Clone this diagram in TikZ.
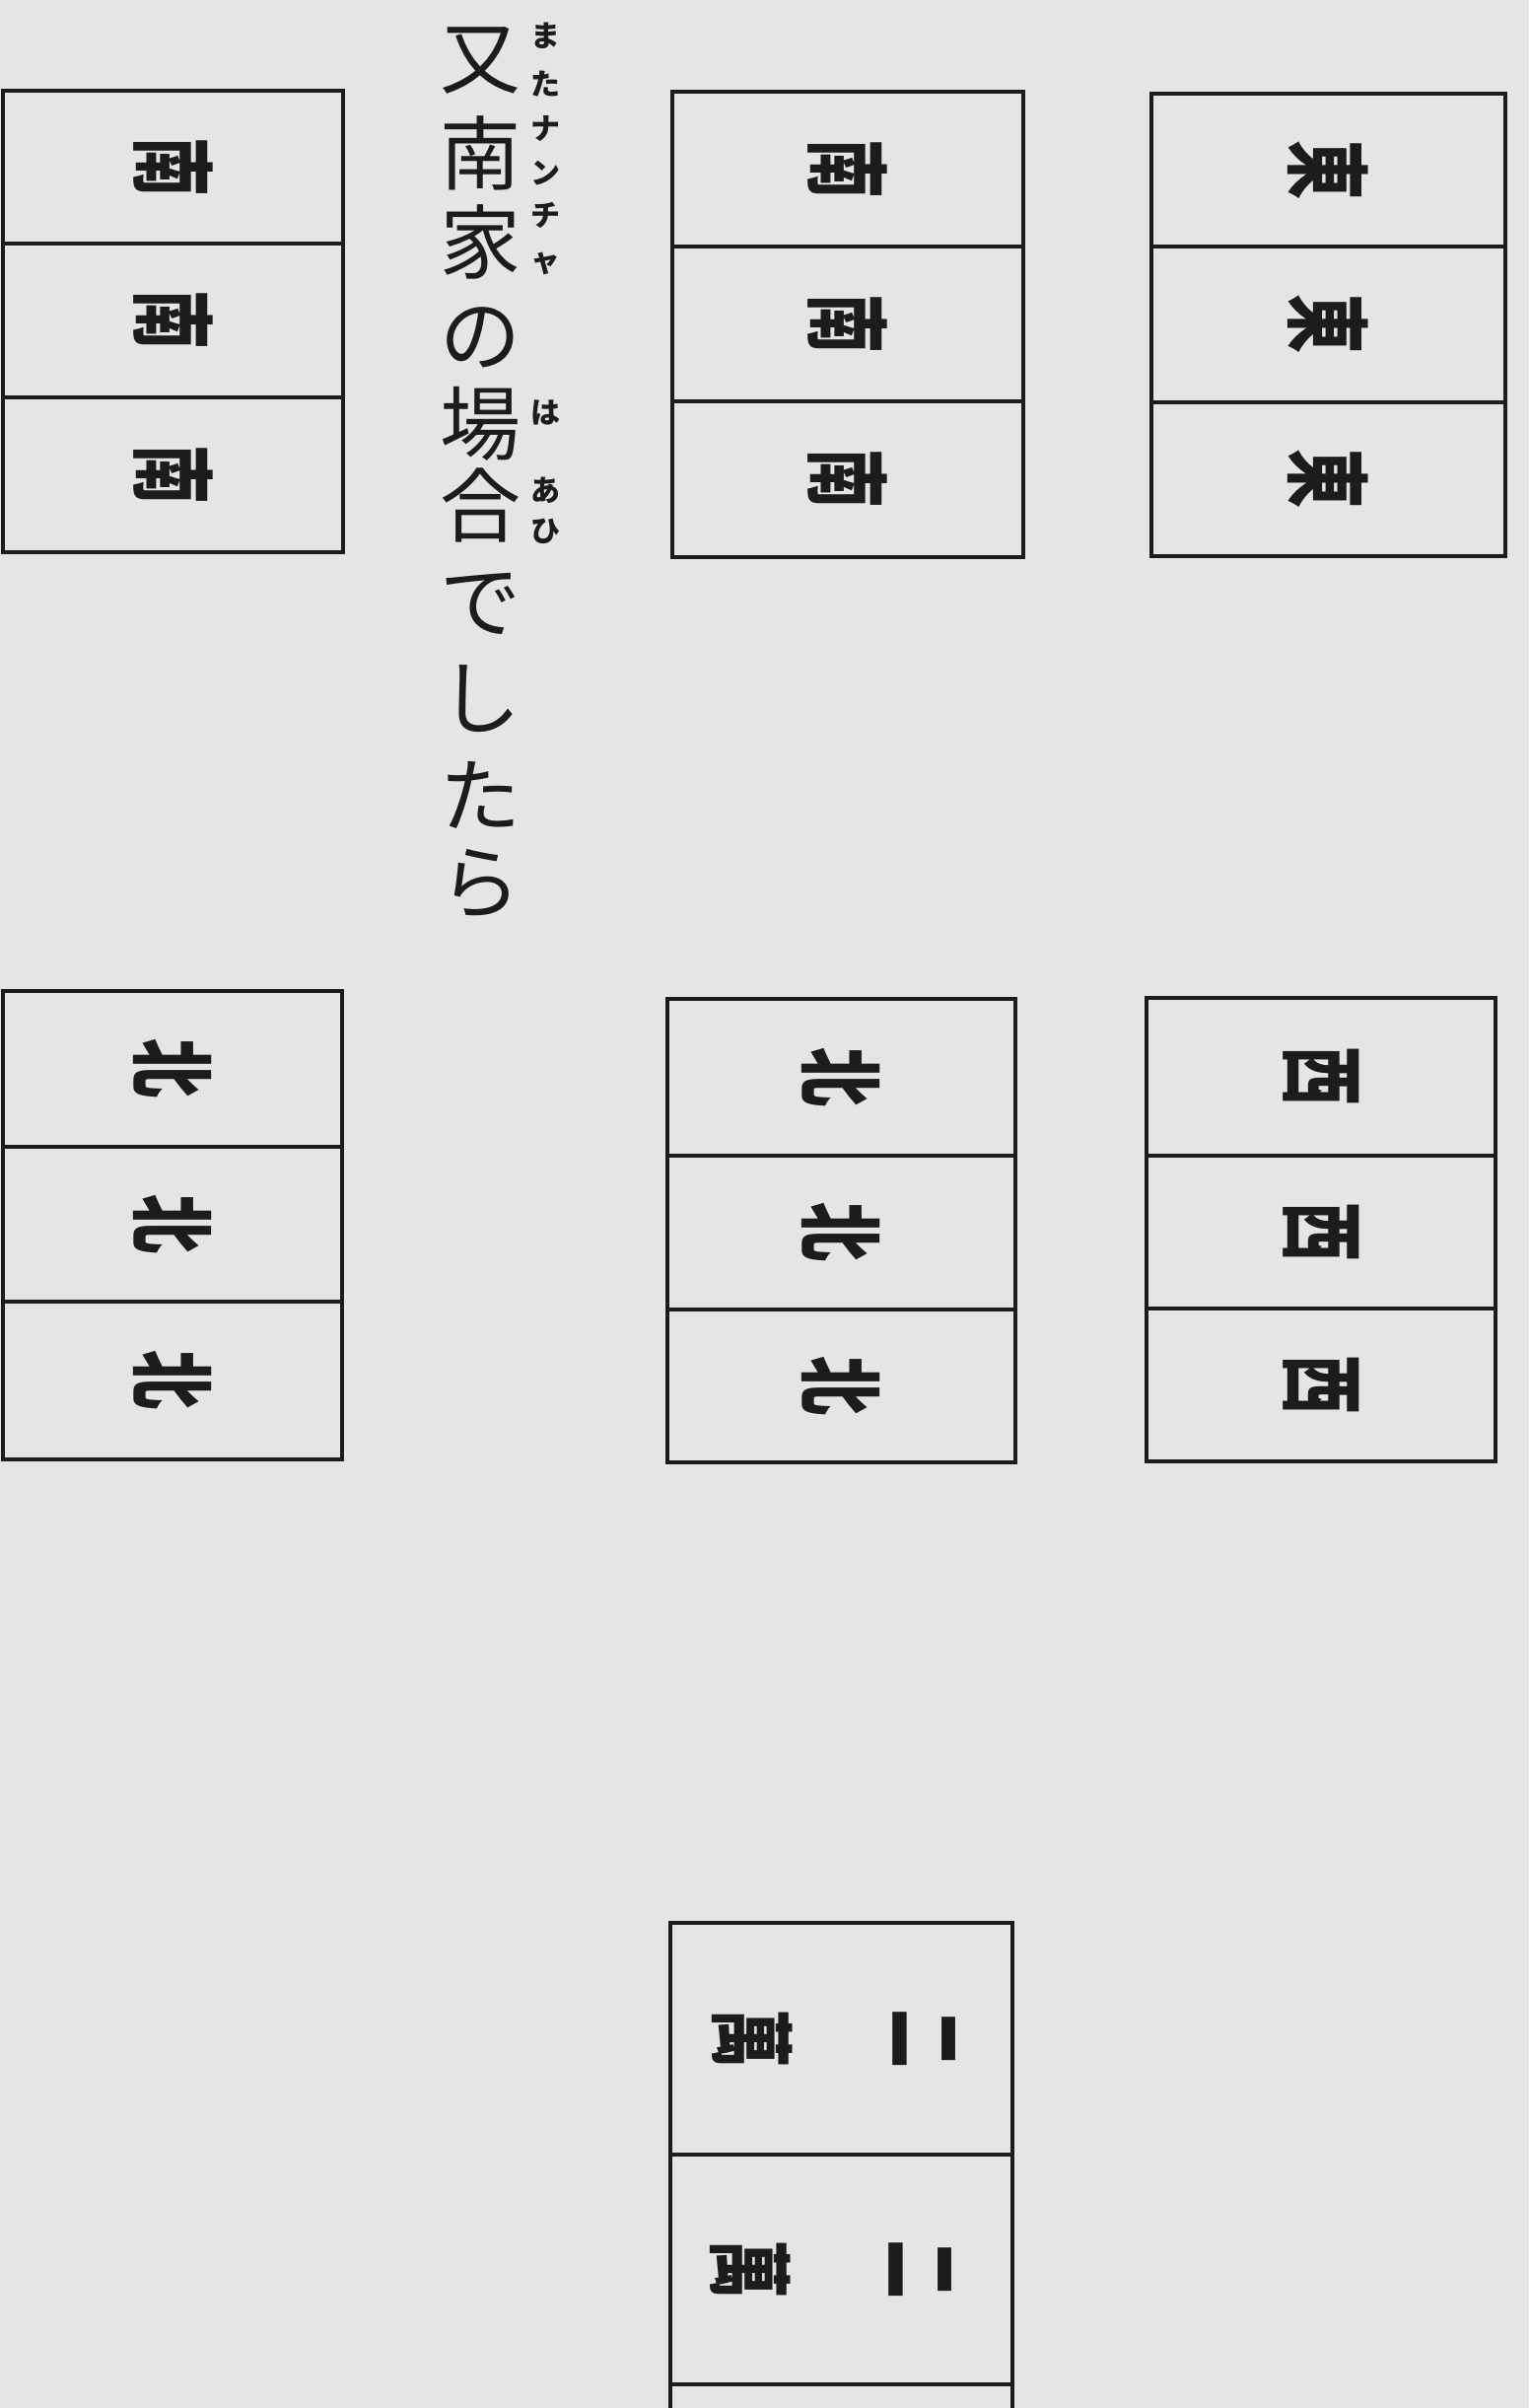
\documentclass[tikz,border=0pt]{standalone}
\usepackage{fontspec}
\newfontfamily\cjk{Noto Sans CJK JP}
\definecolor{paper}{RGB}{229,229,229}
\definecolor{ink}{RGB}{28,28,28}
\tikzset{
  tile/.style={draw=ink, line width=3.4pt, rectangle, inner sep=0pt, text=ink,
    font=\cjk\bfseries\fontsize{86}{86}\selectfont},
  tilechar/.style={inner sep=0pt, text=ink, font=\cjk\bfseries\fontsize{86}{86}\selectfont},
  maintxt/.style={text=ink, inner sep=0pt, font=\cjk\fontsize{82}{82}\selectfont},
  rubytxt/.style={text=ink, inner sep=0pt, font=\cjk\bfseries\fontsize{30}{30}\selectfont},
}
\newcommand{\tchar}[1]{\rotatebox{-90}{\scalebox{0.7}[1]{#1}}}
\begin{document}
\begin{tikzpicture}[x=1pt,y=-1pt]
\fill[paper] (0,0) rectangle (1551,2442);
\clip (0,0) rectangle (1551,2442);
% right column: East
\node[tile, minimum width=359pt, minimum height=155pt] (e1) at (1347.5,172.5) {\tchar{東}};
\node[tile, minimum width=359pt, minimum height=158pt] (e2) at (1347.5,329) {\tchar{東}};
\node[tile, minimum width=359pt, minimum height=156pt] (e3) at (1347.5,486) {\tchar{東}};
% right column: West
\node[tile, minimum width=354pt, minimum height=160pt] (w1) at (1340,1092) {\tchar{西}};
\node[tile, minimum width=354pt, minimum height=155pt] (w2) at (1340,1249.5) {\tchar{西}};
\node[tile, minimum width=354pt, minimum height=155pt] (w3) at (1340,1404.5) {\tchar{西}};
% middle column: South
\node[tile, minimum width=356pt, minimum height=157pt] (s1) at (860,171.5) {\tchar{南}};
\node[tile, minimum width=356pt, minimum height=157pt] (s2) at (860,328.5) {\tchar{南}};
\node[tile, minimum width=356pt, minimum height=158pt] (s3) at (860,486) {\tchar{南}};
% middle column: North
\node[tile, minimum width=353pt, minimum height=159pt] (n1) at (853.5,1092.5) {\tchar{北}};
\node[tile, minimum width=353pt, minimum height=156pt] (n2) at (853.5,1250) {\tchar{北}};
\node[tile, minimum width=353pt, minimum height=155pt] (n3) at (853.5,1405.5) {\tchar{北}};
% left column: South
\node[tile, minimum width=345pt, minimum height=155pt] (ls1) at (175.5,169.5) {\tchar{南}};
\node[tile, minimum width=345pt, minimum height=156pt] (ls2) at (175.5,325) {\tchar{南}};
\node[tile, minimum width=345pt, minimum height=157pt] (ls3) at (175.5,481.5) {\tchar{南}};
% left column: North
\node[tile, minimum width=344pt, minimum height=158pt] (ln1) at (175,1084) {\tchar{北}};
\node[tile, minimum width=344pt, minimum height=157pt] (ln2) at (175,1241.5) {\tchar{北}};
\node[tile, minimum width=344pt, minimum height=160pt] (ln3) at (175,1400) {\tchar{北}};
% bottom: two-wan tiles
\node[tile, minimum width=347pt, minimum height=235pt] (m1) at (853.5,2067.5) {};
\node[tile, minimum width=347pt, minimum height=233pt] (m2) at (853.5,2301.5) {};
\node[tile, minimum width=347pt, minimum height=234pt] (m3) at (853.5,2535) {};
\node[tilechar] (m1a) at ([xshift=-90pt]m1.center) {\tchar{萬}};
\node[tilechar] (m1b) at ([xshift=84pt]m1.center) {\tchar{二}};
\node[tilechar] (m2a) at ([xshift=-92pt]m2.center) {\tchar{萬}};
\node[tilechar] (m2b) at ([xshift=80pt]m2.center) {\tchar{二}};
% vertical text
\foreach \c/\yy [count=\i] in {又/61,南/155,家/245,の/342,場/430,合/512,で/612,し/709,た/806,ら/896}
  \node[maintxt] (t\i) at (487,\yy) {\c};
% ruby
\foreach \c/\yy [count=\i] in {ま/36,た/85,ナ/130,ン/176,チ/218,ャ/267,は/418,あ/497,ひ/539}
  \node[rubytxt] (r\i) at (553,\yy) {\c};
\end{tikzpicture}
\end{document}
